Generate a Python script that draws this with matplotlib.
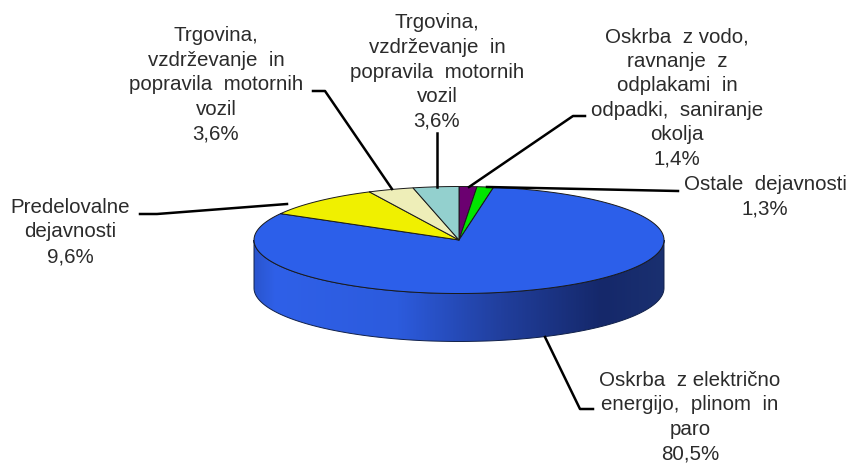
import numpy as np
import matplotlib
matplotlib.use("Agg")
import matplotlib.pyplot as plt
from matplotlib.colors import LinearSegmentedColormap
from matplotlib.patches import Polygon

labels = [
    "Oskrba  z vodo,\nravnanje  z\nodplakami  in\nodpadki,  saniranje\nokolja\n1,4%",
    "Ostale  dejavnosti\n1,3%",
    "Oskrba  z električno\nenergijo,  plinom  in\nparo\n80,5%",
    "Predelovalne\ndejavnosti\n9,6%",
    "Trgovina,\nvzdrževanje  in\npopravila  motornih\nvozil\n3,6%",
    "Trgovina,\nvzdrževanje  in\npopravila  motornih\nvozil\n3,6%",
]
values = [1.4, 1.3, 80.5, 9.6, 3.6, 3.6]
colors = ["#6B0070", "#00E600", "#2C5FEA", "#F0F000", "#EEEEB8", "#93D0CE"]
label_pos = [(677, 98), (765, 197), (690, 417), (70, 232), (216, 85), (437, 72)]
leaders = [
    [(585, 117), (573, 117), (469, 188)],
    [(678, 192), (487, 188)],
    [(593, 410), (580, 410), (545, 338)],
    [(140, 215), (157, 215), (287, 205)],
    [(313, 92), (325, 92), (392, 190)],
    [(437, 134), (437, 188)],
]
side_stops = [(0.0, "#2A55CE"), (0.05, "#2F60E8"), (0.35, "#2C5BDD"),
              (0.6, "#213F9E"), (0.85, "#15286A"), (1.0, "#1A3070")]

CX, CY, RX, RY, DEPTH = 459, 241, 205, 53.5, 48


def ell(theta):
    return CX + RX * np.sin(theta), CY - RY * np.cos(theta)


fig = plt.figure(figsize=(8.5, 4.64), dpi=100, facecolor="white")
ax = fig.add_axes([0, 0, 1, 1])
ax.set_axis_off()

# side wall
th = np.linspace(np.pi / 2, 3 * np.pi / 2, 200)
x, y = ell(th)
wall = np.column_stack([np.r_[x, x[::-1]], np.r_[y, y[::-1] + DEPTH]])
cmap = LinearSegmentedColormap.from_list("side", side_stops)
im = ax.imshow(np.linspace(0, 1, 400)[None, :], cmap=cmap, aspect="auto",
               extent=[CX - RX, CX + RX, CY + RY + DEPTH, CY - RY], zorder=1)
wall_patch = Polygon(wall, closed=True, fc="none", ec="#10204A", lw=0.7, zorder=2)
ax.add_patch(wall_patch)
im.set_clip_path(wall_patch)

# top face
start = 0.0
total = sum(values)
for v, c in zip(values, colors):
    end = start + v / total * 2 * np.pi
    t = np.linspace(start, end, max(3, int(v * 8)))
    ex, ey = ell(t)
    ax.add_patch(Polygon(np.column_stack([np.r_[CX, ex], np.r_[CY, ey]]), closed=True,
                         fc=c, ec="#1A1A1A", lw=0.7, joinstyle="round", zorder=3))
    start = end

# leaders and labels
for pts in leaders:
    px, py = zip(*pts)
    ax.plot(px, py, color="black", lw=1.8, solid_joinstyle="round", zorder=4)
for lab, (lx, ly) in zip(labels, label_pos):
    ax.text(lx, ly, lab, ha="center", va="center", multialignment="center",
            family=["Liberation Sans", "DejaVu Sans"], fontsize=14.8, color="#2B2B2B",
            linespacing=1.37, zorder=5)

ax.set_xlim(0, 850)
ax.set_ylim(464, 0)
fig.savefig("out.png", dpi=100)
